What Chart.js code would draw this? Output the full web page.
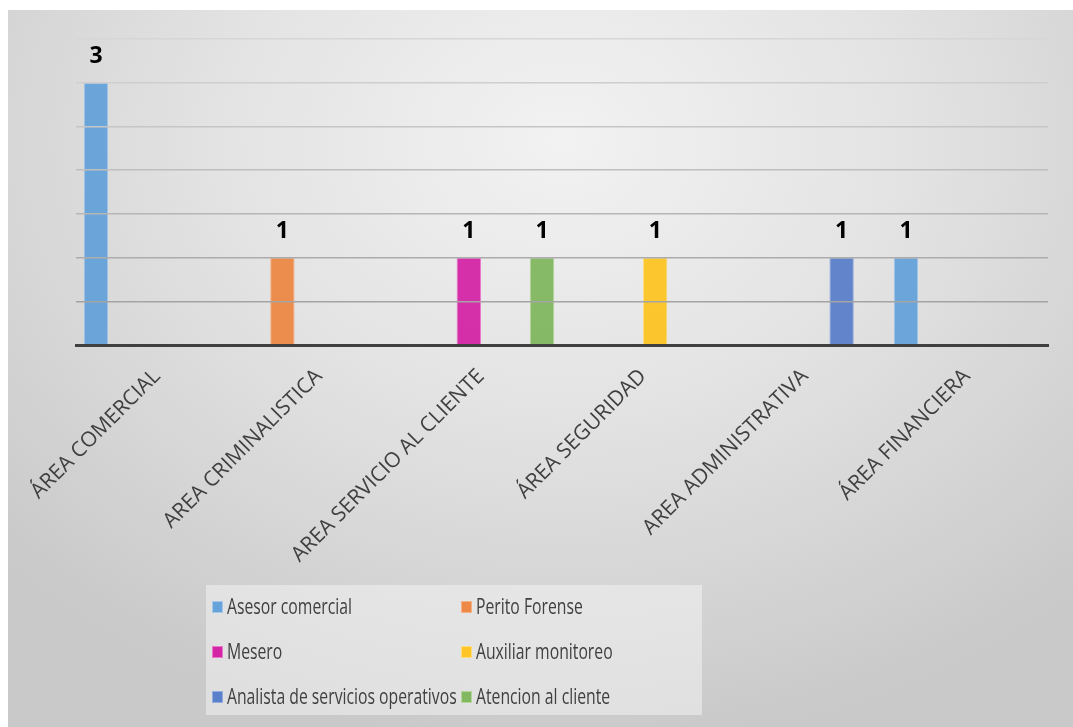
<!DOCTYPE html>
<html>
<head>
<meta charset="utf-8">
<script src="https://cdn.jsdelivr.net/npm/chart.js@4"></script>
<style>
    html, body { margin: 0; padding: 0; background: #ffffff; }
    #marco {
        position: absolute; left: 8px; top: 10px; width: 1065px; height: 717px;
        background: radial-gradient(ellipse 72% 85% at 52% 18%, #f2f2f2 0%, #e3e3e3 45%, #c9c9c9 100%);
    }
    #grafico { display: block; }
</style>
</head>
<body>
<div id="marco"><canvas id="grafico" width="1065" height="717"></canvas></div>
<script>
// Datos del gráfico
const categorias = ['ÁREA COMERCIAL', 'AREA CRIMINALISTICA', 'AREA SERVICIO AL CLIENTE', 'ÁREA SEGURIDAD', 'AREA ADMINISTRATIVA', 'ÁREA FINANCIERA'];
const asesorComercial = [3, null, null, null, null, 1];
const peritoForense = [null, 1, null, null, null, null];
const mesero = [null, null, 1, null, null, null];
const auxiliarMonitoreo = [null, null, null, 1, null, null];
const analistaServicios = [null, null, null, null, 1, null];
const atencionCliente = [null, null, 1, null, null, null];

const nombresSeries = ['Asesor comercial', 'Perito Forense', 'Mesero', 'Auxiliar monitoreo', 'Analista de servicios operativos', 'Atencion al cliente'];
const valoresSeries = [asesorComercial, peritoForense, mesero, auxiliarMonitoreo, analistaServicios, atencionCliente];
const colores = ['rgba(98,160,217,0.92)', 'rgba(237,132,64,0.92)', 'rgba(210,30,164,0.92)', 'rgba(253,194,30,0.92)', 'rgba(86,124,201,0.92)', 'rgba(126,181,90,0.92)'];
const bordes = ['#a4c8ea', '#f5b287', '#e878cb', '#fedc7f', '#93abdd', '#b4d69c'];

// Etiquetas de valor encima de cada barra
const etiquetasValor = {
    id: 'etiquetasValor',
    afterDatasetsDraw(chart) {
        const ctx = chart.ctx;
        ctx.save();
        ctx.font = 'bold 23px "Open Sans", sans-serif';
        ctx.fillStyle = '#000000';
        ctx.textAlign = 'center';
        ctx.textBaseline = 'middle';
        chart.data.datasets.forEach((ds, i) => {
            const meta = chart.getDatasetMeta(i);
            meta.data.forEach((barra, j) => {
                if (ds.data[j] === null) return;
                ctx.fillText(String(ds.data[j]), barra.x, barra.y - 26);
            });
        });
        ctx.restore();
    }
};

// Leyenda en dos columnas dentro de un recuadro
const leyendaCaja = {
    id: 'leyendaCaja',
    afterDraw(chart) {
        const ctx = chart.ctx;
        ctx.save();
        ctx.fillStyle = 'rgba(245,245,245,0.5)';
        ctx.fillRect(198, 575, 496, 130);
        ctx.font = '21px "Open Sans", sans-serif';
        ctx.textBaseline = 'middle';
        ctx.textAlign = 'left';
        chart.data.datasets.forEach((ds, i) => {
            const col = i % 2;
            const fila = Math.floor(i / 2);
            const x = col === 0 ? 204 : 453;
            const y = 597 + fila * 45;
            ctx.fillStyle = ds.borderColor;
            ctx.fillRect(x, y - 6, 11, 12);
            ctx.fillStyle = ds.backgroundColor;
            ctx.fillRect(x + 1, y - 5, 9, 10);
            // texto estrecho, como en el original
            ctx.save();
            ctx.translate(x + 15, y + 1);
            ctx.scale(0.75, 1);
            ctx.fillStyle = '#404040';
            ctx.fillText(ds.label, 0, 0);
            ctx.restore();
        });
        ctx.restore();
    }
};

const coloresRejilla = ['#404040', '#a4a4a4', '#acacac', '#b6b6b6', '#bebebe', '#c6c6c6', '#cecece', '#d6d6d6'];

new Chart(document.getElementById('grafico').getContext('2d'), {
    type: 'bar',
    data: {
        labels: categorias,
        datasets: nombresSeries.map((nombre, i) => ({
            label: nombre,
            data: valoresSeries[i],
            backgroundColor: colores[i],
            borderColor: bordes[i],
            borderWidth: 1,
            categoryPercentage: 0.904,
            barPercentage: 1.0
        }))
    },
    options: {
        responsive: false,
        animation: false,
        layout: { padding: { left: 68, top: 29, right: 25, bottom: 0 } },
        plugins: {
            legend: { display: false },
            tooltip: { enabled: false }
        },
        scales: {
            y: {
                min: 0,
                max: 3.5,
                ticks: { display: false, stepSize: 0.5 },
                border: { display: false },
                grid: {
                    drawTicks: false,
                    z: 1,
                    lineWidth: 1.5,
                    color: (c) => coloresRejilla[Math.round(c.tick.value * 2)] || '#c0c0c0'
                }
            },
            x: {
                afterFit: (eje) => { eje.height = 382; },
                border: { color: '#404040', width: 3, z: 2 },
                grid: { display: false, drawTicks: false },
                ticks: {
                    autoSkip: false,
                    minRotation: 45,
                    maxRotation: 45,
                    padding: 19,
                    color: '#404040',
                    font: { family: '"Open Sans", sans-serif', size: 21 }
                }
            }
        }
    },
    plugins: [etiquetasValor, leyendaCaja]
});
</script>
</body>
</html>
